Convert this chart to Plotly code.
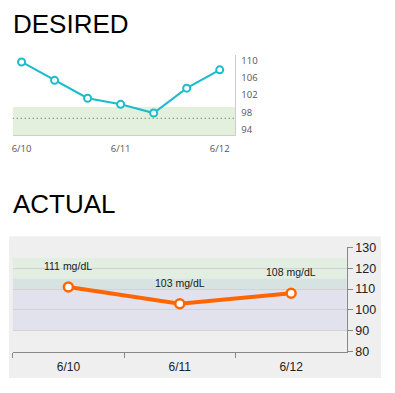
import plotly.graph_objects as go

# The page body keeps an 8px margin on every side; the figure fills the rest.
OFF = 8
W, H = 395 - 2 * OFF, 393 - 2 * OFF

# ---- DESIRED chart data ----
desired_hours = [0, 8, 16, 24, 32, 40, 48]
desired_values = [109.6, 105.4, 101.3, 99.9, 97.9, 103.6, 107.8]
desired_tick_hours = [0, 24, 48]
desired_tick_labels = ["6/10", "6/11", "6/12"]
desired_ytick_values = [94, 98, 102, 106, 110]
desired_band = [92.9, 99.3]
desired_target = 96.7

# ---- ACTUAL chart data ----
actual_dates = ["6/10", "6/11", "6/12"]
actual_values = [111, 103, 108]
actual_labels = ["111 mg/dL", "103 mg/dL", "108 mg/dL"]
actual_yticks = [80, 90, 100, 110, 120, 130]
actual_green_band = [110, 125]
actual_blue_band = [90, 115]


def px_x(p):
    return max(0.0, (p - OFF) / W)


def px_y(p):
    return min(1.0, max(0.0, 1 - (p - OFF) / H))


fig = go.Figure()

fig.add_trace(go.Scatter(
    x=desired_hours, y=desired_values, mode="lines+markers",
    line=dict(color="#1bbccb", width=2),
    marker=dict(size=7, color="white", line=dict(color="#1bbccb", width=2)),
    xaxis="x", yaxis="y", hoverinfo="skip", showlegend=False,
))

fig.add_trace(go.Scatter(
    x=actual_dates, y=actual_values, mode="lines+markers",
    line=dict(color="#ff6600", width=4),
    marker=dict(size=9, color="white", line=dict(color="#ff6600", width=2.5)),
    xaxis="x2", yaxis="y2", hoverinfo="skip", showlegend=False,
))

shapes = [
    # gray panel behind ACTUAL chart
    dict(type="rect", xref="paper", yref="paper",
         x0=px_x(5), x1=px_x(381), y0=px_y(386), y1=px_y(237.7),
         fillcolor="#efefef", line=dict(width=0), layer="below"),
    # desired band
    dict(type="rect", xref="x", yref="y", x0=-2.15, x1=51.8,
         y0=desired_band[0], y1=desired_band[1],
         fillcolor="#e2f0dc", line=dict(width=0), layer="below"),
    dict(type="line", xref="x", yref="y", x0=-2.15, x1=51.8,
         y0=desired_target, y1=desired_target,
         line=dict(color="#3d6168", width=1, dash="1px,3px"), layer="below"),
    # actual bands
    dict(type="rect", xref="x2", yref="y2", x0=-0.5, x1=2.5,
         y0=actual_blue_band[0], y1=actual_blue_band[1],
         fillcolor="rgba(120,120,239,0.1)", line=dict(width=0), layer="below"),
    dict(type="rect", xref="x2", yref="y2", x0=-0.5, x1=2.5,
         y0=actual_green_band[0], y1=actual_green_band[1],
         fillcolor="rgba(120,239,120,0.1)", line=dict(width=0), layer="below"),
]

annotations = [
    dict(text="DESIRED", xref="paper", yref="paper", x=px_x(10), y=px_y(17.5),
         xanchor="left", yanchor="middle", showarrow=False,
         font=dict(family="Liberation Sans, Arial", size=26, color="black")),
    dict(text="ACTUAL", xref="paper", yref="paper", x=px_x(10), y=px_y(204.5),
         xanchor="left", yanchor="middle", showarrow=False,
         font=dict(family="Liberation Sans, Arial", size=26, color="black")),
]
for d, v, lab in zip(actual_dates, actual_values, actual_labels):
    annotations.append(dict(
        text=lab, x=d, y=v, xref="x2", yref="y2", showarrow=False,
        yshift=21, font=dict(family="Liberation Sans, Arial", size=10.5, color="#1a1a1a")))

fig.update_layout(
    width=W, height=H,
    margin=dict(l=0, r=0, t=0, b=0),
    paper_bgcolor="white",
    plot_bgcolor="rgba(0,0,0,0)",
    shapes=shapes,
    annotations=annotations,
    xaxis=dict(
        domain=[px_x(11.7), px_x(235)], range=[-2.15, 51.8],
        tickvals=desired_tick_hours, ticktext=desired_tick_labels,
        showgrid=False, zeroline=False, showline=True, linecolor="#cccccc",
        ticks="", ticklabelstandoff=5,
        tickfont=dict(family="Open Sans", size=9.5, color="#555555"),
        anchor="y", fixedrange=True,
    ),
    yaxis=dict(
        domain=[px_y(132.5), px_y(50)], range=[92.9, 111.1],
        tickvals=desired_ytick_values, side="right",
        showgrid=False, zeroline=False, showline=True, linecolor="#cccccc",
        ticks="", ticklabelstandoff=3,
        tickfont=dict(family="Open Sans", size=9.5, color="#555555"),
        anchor="x", fixedrange=True,
    ),
    xaxis2=dict(
        domain=[px_x(11.7), px_x(346.7)], range=[-0.5, 2.5],
        type="category", tickson="boundaries", ticks="outside", ticklen=5,
        tickcolor="#888888", showline=True, linecolor="#888888",
        showgrid=False, zeroline=False, ticklabelstandoff=4,
        tickfont=dict(family="Liberation Sans, Arial", size=12, color="#222222"),
        anchor="y2", fixedrange=True,
    ),
    yaxis2=dict(
        domain=[px_y(357.7), px_y(249.3)], range=[80, 130],
        tickvals=actual_yticks, side="right",
        ticks="outside", ticklen=5, tickcolor="#888888",
        showline=True, linecolor="#888888",
        showgrid=True, gridcolor="#d2d2d2", zeroline=False,
        tickfont=dict(family="Liberation Sans, Arial", size=12.5, color="#222222"),
        anchor="x2", fixedrange=True,
    ),
)

fig.write_html("out.html", config={"displayModeBar": False, "responsive": False})
